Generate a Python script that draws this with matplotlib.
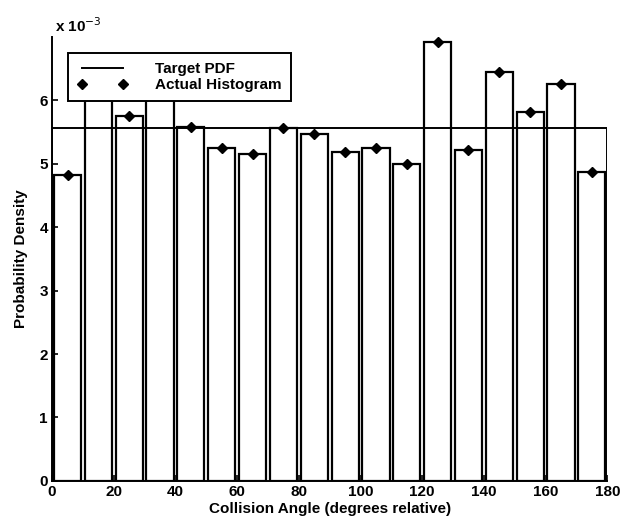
import numpy as np
import matplotlib
matplotlib.use("Agg")
import matplotlib.pyplot as plt

plt.rcParams['font.family'] = ['Liberation Sans', 'DejaVu Sans']

# --- data (values in units of 1e-3) ---
bin_centers = [5, 15, 25, 35, 45, 55, 65, 75, 85, 95, 105, 115, 125, 135, 145, 155, 165, 175]
hist_vals = [4.82, 6.35, 5.75, 6.3, 5.58, 5.25, 5.15, 5.56, 5.47, 5.19, 5.24, 4.99,
             6.91, 5.21, 6.44, 5.81, 6.25, 4.87]
target_x = [0, 0, 180, 180]
target_y = [0, 1000.0 / 180, 1000.0 / 180, 0]
x_ticks = [0, 20, 40, 60, 80, 100, 120, 140, 160, 180]
y_ticks = [0, 1, 2, 3, 4, 5, 6]

fig = plt.figure(figsize=(6.28, 5.25), dpi=100)
ax = fig.add_axes([0.083, 0.084, 0.884, 0.846])

# histogram bars (white with black edges)
ax.bar(bin_centers, hist_vals, width=8.8, facecolor='none', edgecolor='black',
       linewidth=1.6, zorder=2)

# target pdf (uniform) drawn as a box outline
ax.plot(target_x, target_y, color='black', linewidth=1.4, zorder=3,
        label='Target PDF')

# diamonds on top of each bar
ax.plot(bin_centers, hist_vals, linestyle='none', marker='D', markersize=5,
        color='black', zorder=4, label='Actual Histogram')

ax.set_xlim(0, 180)
ax.set_ylim(0, 7)
ax.set_xticks(x_ticks)
ax.set_yticks(y_ticks)
ax.tick_params(direction='in', length=4, width=1.2, labelsize=11, pad=3)
for lbl in ax.get_xticklabels() + ax.get_yticklabels():
    lbl.set_fontweight('bold')

ax.spines['top'].set_visible(False)
ax.spines['right'].set_visible(False)
ax.spines['left'].set_linewidth(1.4)
ax.spines['bottom'].set_linewidth(1.4)

ax.set_xlabel('Collision Angle (degrees relative)', fontsize=11, fontweight='bold', labelpad=2)
ax.set_ylabel('Probability Density', fontsize=11, fontweight='bold', labelpad=8)
ax.text(0.005, 1.005, r'x 10$^{-3}$', transform=ax.transAxes, fontsize=11,
        fontweight='bold', ha='left', va='bottom')

leg = ax.legend(loc='upper left', bbox_to_anchor=(0.029, 0.964), numpoints=2,
                handlelength=3.3, handletextpad=1.8, fontsize=11, frameon=True,
                fancybox=False, borderpad=0.6, labelspacing=0.15, framealpha=1,
                borderaxespad=0)
leg.get_frame().set_edgecolor('black')
leg.get_frame().set_linewidth(1.4)
leg.set_zorder(10)
for t in leg.get_texts():
    t.set_fontweight('bold')

fig.savefig('out.png', dpi=100)
